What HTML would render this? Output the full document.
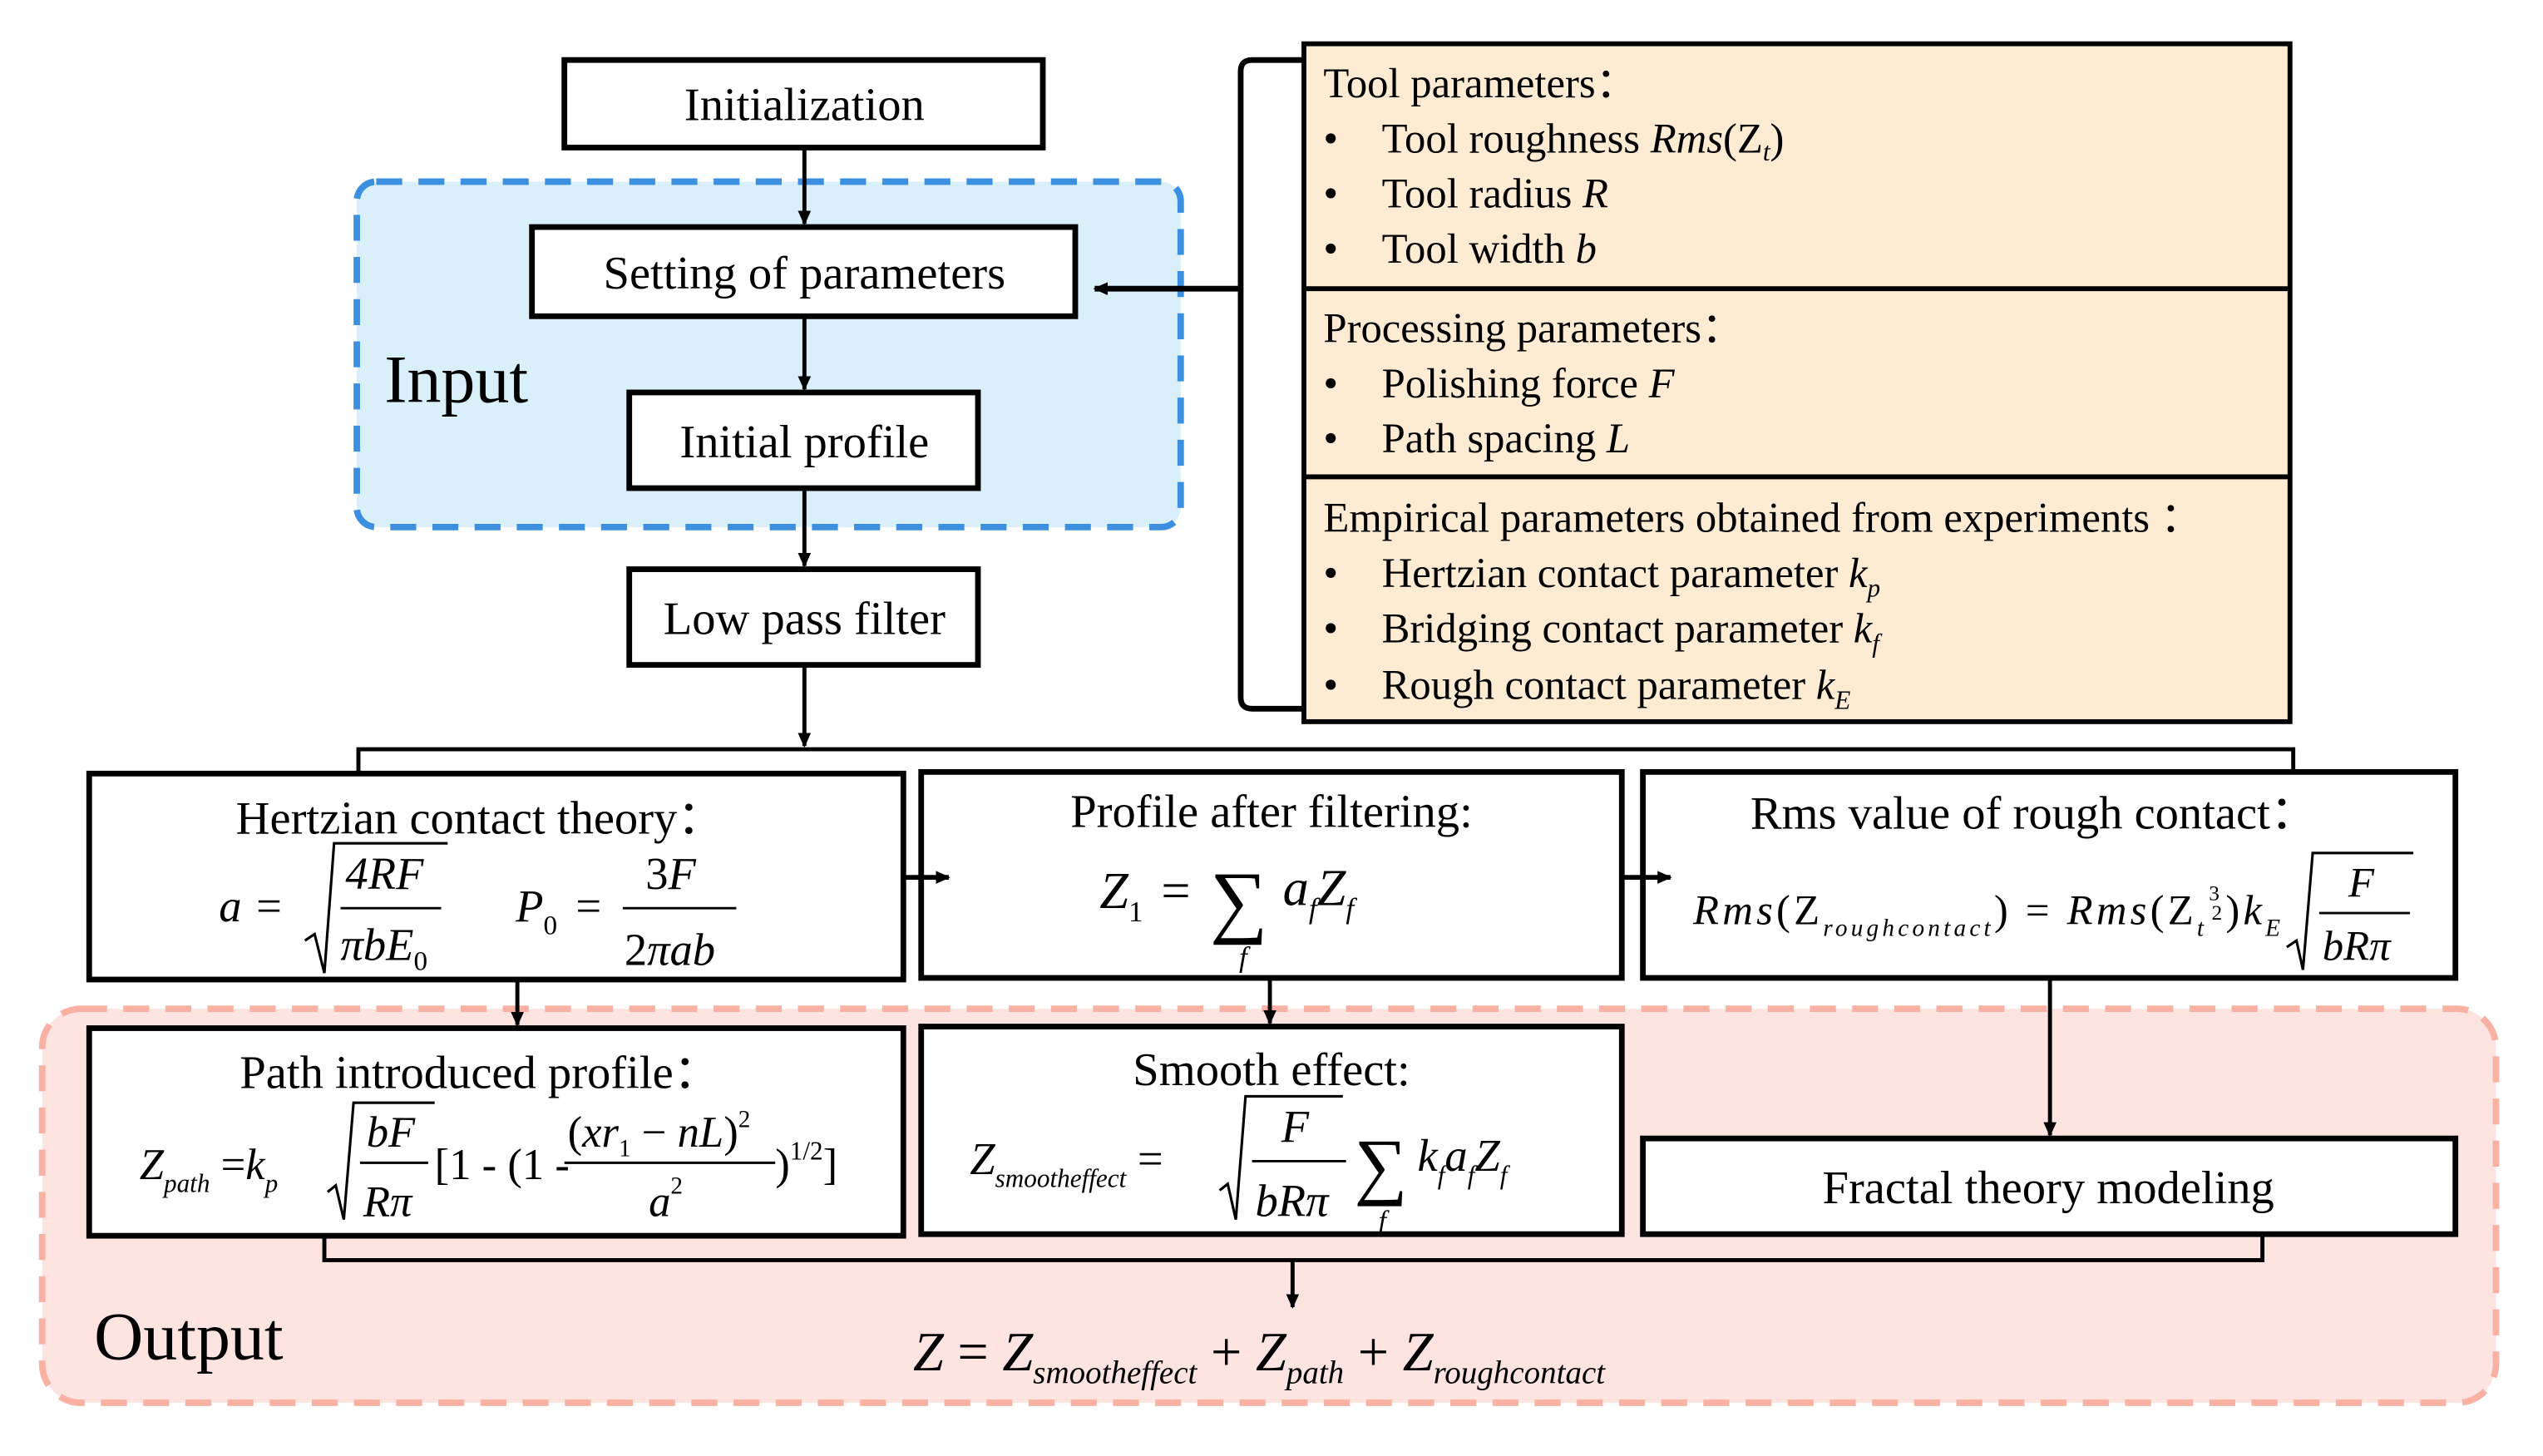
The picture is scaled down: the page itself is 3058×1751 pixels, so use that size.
<!DOCTYPE html>
<html><head><meta charset="utf-8"><style>
html,body{margin:0;padding:0;background:#fff}
svg{display:block}
text{font-family:"Liberation Serif",serif;fill:#000}
.t{font-size:29px}
.i{font-style:italic}
</style></head><body>
<svg width="3058" height="1751" viewBox="0 0 1568 897.8" preserveAspectRatio="none" xmlns="http://www.w3.org/2000/svg">
<defs><marker id="a" markerWidth="10" markerHeight="10" refX="8" refY="5" orient="auto" markerUnits="userSpaceOnUse"><path d="M0,1 L9,5 L0,9 Z" fill="#000"/></marker></defs>
<rect x="220" y="112" width="508" height="213" rx="12" fill="#d9effa" stroke="#3d8fe0" stroke-width="4" stroke-dasharray="16,10"/>
<rect x="26" y="622" width="1513" height="243" rx="24" fill="#fde4e0" stroke="#f9b1a3" stroke-width="4" stroke-dasharray="16,10"/>
<text x="237" y="248" style="font-size:42px">Input</text>
<text x="58" y="838" style="font-size:42px">Output</text>
<g fill="#fff" stroke="#000" stroke-width="3.5">
<rect x="348" y="37" width="295" height="54"/>
<rect x="328" y="140" width="335" height="55"/>
<rect x="388" y="242" width="215" height="59"/>
<rect x="388" y="351" width="215" height="59"/>
<rect x="55" y="477" width="502" height="127"/>
<rect x="568" y="476" width="432" height="127"/>
<rect x="1013" y="476" width="501" height="127"/>
<rect x="55" y="634" width="502" height="128"/>
<rect x="568" y="633" width="432" height="128"/>
<rect x="1013" y="702" width="501" height="59"/>
</g>
<text x="496" y="74" class="t" text-anchor="middle">Initialization</text>
<text x="496" y="178" class="t" text-anchor="middle">Setting of parameters</text>
<text x="496" y="282" class="t" text-anchor="middle">Initial profile</text>
<text x="496" y="391" class="t" text-anchor="middle">Low pass filter</text>
<text x="1263" y="742" class="t" text-anchor="middle">Fractal theory modeling</text>
<g stroke="#000" stroke-width="2.5" fill="none">
<line x1="496" y1="91" x2="496" y2="138" marker-end="url(#a)"/>
<line x1="496" y1="195" x2="496" y2="240" marker-end="url(#a)"/>
<line x1="496" y1="301" x2="496" y2="349" marker-end="url(#a)"/>
<line x1="496" y1="410" x2="496" y2="460" marker-end="url(#a)"/>
<path d="M221,476 V462 H1414 V476"/>
<line x1="557" y1="541" x2="585" y2="541" marker-end="url(#a)" stroke-width="3"/>
<line x1="1000" y1="541" x2="1030" y2="541" marker-end="url(#a)" stroke-width="3"/>
<line x1="319" y1="604" x2="319" y2="632" marker-end="url(#a)"/>
<line x1="783" y1="603" x2="783" y2="631" marker-end="url(#a)"/>
<line x1="1264" y1="603" x2="1264" y2="700" marker-end="url(#a)"/>
<path d="M200,762 V777 H1395 V761"/>
<line x1="797" y1="777" x2="797" y2="806" marker-end="url(#a)"/>
<path d="M803,37 H772 Q765,37 765,44 V430 Q765,437 772,437 H803" stroke-width="3.5"/>
<line x1="765" y1="178" x2="675" y2="178" marker-end="url(#a)" stroke-width="3.5"/>
</g>
<rect x="804" y="27" width="608" height="418" fill="#fdebd3" stroke="#000" stroke-width="3"/>
<line x1="804" y1="178" x2="1412" y2="178" stroke="#000" stroke-width="3"/>
<line x1="804" y1="294" x2="1412" y2="294" stroke="#000" stroke-width="3"/>
<g style="font-size:26px">
<text x="816" y="60">Tool parameters：</text>
<text x="816" y="94">•</text><text x="852" y="94">Tool roughness <tspan class="i">Rms</tspan>(Z<tspan class="i" font-size="16" dy="5">t</tspan><tspan dy="-5">)</tspan></text>
<text x="816" y="128">•</text><text x="852" y="128">Tool radius <tspan class="i">R</tspan></text>
<text x="816" y="162">•</text><text x="852" y="162">Tool width <tspan class="i">b</tspan></text>
<text x="816" y="211">Processing parameters：</text>
<text x="816" y="245">•</text><text x="852" y="245">Polishing force <tspan class="i">F</tspan></text>
<text x="816" y="279">•</text><text x="852" y="279">Path spacing <tspan class="i">L</tspan></text>
<text x="816" y="328">Empirical parameters obtained from experiments ：</text>
<text x="816" y="362">•</text><text x="852" y="362">Hertzian contact parameter <tspan class="i">k<tspan font-size="16" dy="6">p</tspan></tspan></text>
<text x="816" y="396">•</text><text x="852" y="396">Bridging contact parameter <tspan class="i">k<tspan font-size="16" dy="6">f</tspan></tspan></text>
<text x="816" y="431">•</text><text x="852" y="431">Rough contact parameter <tspan class="i">k<tspan font-size="16" dy="6">E</tspan></tspan></text>
</g>
<text x="296" y="514" class="t" text-anchor="middle">Hertzian contact theory：</text>
<g style="font-size:28px" class="i">
<text x="135" y="568">a</text><text x="158" y="568" font-style="normal">=</text>
<path d="M188,580 L194,576 L200,600 L206,520 L276,520" stroke="#000" stroke-width="1.6" fill="none"/>
<text x="213" y="548">4RF</text><line x1="210" y1="560" x2="272" y2="560" stroke="#000" stroke-width="1.5"/>
<text x="210" y="592">πbE<tspan font-size="17" font-style="normal" dy="6">0</tspan></text>
<text x="318" y="568">P<tspan font-size="17" font-style="normal" dy="8">0</tspan></text><text x="355" y="568" font-style="normal">=</text>
<text x="398" y="548" font-style="normal">3<tspan font-style="italic">F</tspan></text><line x1="384" y1="560" x2="454" y2="560" stroke="#000" stroke-width="1.5"/>
<text x="385" y="595" font-style="normal">2<tspan font-style="italic">πab</tspan></text>
</g>
<text x="784" y="510" class="t" text-anchor="middle">Profile after filtering:</text>
<g style="font-size:32px" class="i">
<text x="678" y="560">Z<tspan font-size="18" font-style="normal" dy="8">1</tspan></text><text x="716" y="560" font-style="normal">=</text>
<text x="746" y="572" font-style="normal" font-size="50">∑</text>
<text x="764" y="596" font-size="18">f</text>
<text x="791" y="558">a<tspan font-size="18" dy="8">f</tspan><tspan dy="-8">Z</tspan><tspan font-size="18" dy="8">f</tspan></text>
</g>
<text x="1254" y="511" class="t" text-anchor="middle">Rms value of rough contact：</text>
<g style="font-size:26px" class="i">
<text x="1044" y="570" textLength="362" lengthAdjust="spacing">Rms<tspan font-style="normal">(Z</tspan><tspan font-size="15" dy="7">roughcontact</tspan><tspan font-style="normal" dy="-7">) = </tspan>Rms<tspan font-style="normal">(Z</tspan><tspan font-size="15" dy="7">t</tspan><tspan font-size="13" font-style="normal" dx="1" dy="-22">3</tspan><tspan font-size="13" font-style="normal" dx="-7" dy="12">2</tspan><tspan font-style="normal" dy="3">)</tspan>k<tspan font-size="15" dy="7">E</tspan></text>
<path d="M1410,584 L1416,580 L1420,598 L1426,526 L1488,526" stroke="#000" stroke-width="1.6" fill="none"/>
<text x="1448" y="553">F</text><line x1="1430" y1="563" x2="1486" y2="563" stroke="#000" stroke-width="1.5"/>
<text x="1432" y="592">bRπ</text>
</g>
<text x="296" y="671" class="t" text-anchor="middle">Path introduced profile：</text>
<g style="font-size:27px" class="i">
<text x="86" y="727">Z<tspan font-size="16" dy="8">path</tspan><tspan font-style="normal" dy="-8"> =</tspan>k<tspan font-size="16" dy="8">p</tspan></text>
<path d="M202,735 L207,731 L212,752 L218,680 L268,680" stroke="#000" stroke-width="1.6" fill="none"/>
<text x="226" y="707">bF</text><line x1="222" y1="717" x2="264" y2="717" stroke="#000" stroke-width="1.5"/>
<text x="224" y="750">Rπ</text>
<text x="268" y="727" font-style="normal">[1 - (1 - </text>
<text x="350" y="707" font-style="normal">(<tspan font-style="italic">xr</tspan><tspan font-size="15" dy="6">1</tspan><tspan dy="-6"> − </tspan><tspan font-style="italic">nL</tspan>)<tspan font-size="15" dy="-12">2</tspan></text>
<line x1="348" y1="717" x2="478" y2="717" stroke="#000" stroke-width="1.5"/>
<text x="400" y="750">a<tspan font-size="15" font-style="normal" dy="-14">2</tspan></text>
<text x="478" y="727" font-style="normal">)<tspan font-size="16" dy="-12">1/2</tspan><tspan dy="12">]</tspan></text>
</g>
<text x="784" y="669" class="t" text-anchor="middle">Smooth effect:</text>
<g style="font-size:28px" class="i">
<text x="598" y="724">Z<tspan font-size="16" dy="8">smootheffect</tspan><tspan font-style="normal" dy="-8"> =</tspan></text>
<path d="M752,734 L757,730 L762,752 L768,676 L828,676" stroke="#000" stroke-width="1.6" fill="none"/>
<text x="790" y="704">F</text><line x1="772" y1="716" x2="830" y2="716" stroke="#000" stroke-width="1.5"/>
<text x="774" y="750">bRπ</text>
<text x="835" y="734" font-style="normal" font-size="46">∑</text>
<text x="850" y="758" font-size="17">f</text>
<text x="874" y="722">k<tspan font-size="16" dy="8">f</tspan><tspan dy="-8">a</tspan><tspan font-size="16" dy="8">f</tspan><tspan dy="-8">Z</tspan><tspan font-size="16" dy="8">f</tspan></text>
</g>
<g style="font-size:34px" class="i">
<text x="563" y="845">Z <tspan font-style="normal">=</tspan> Z<tspan font-size="20" dy="8">smootheffect</tspan><tspan font-style="normal" dy="-8"> + </tspan>Z<tspan font-size="20" dy="8">path</tspan><tspan font-style="normal" dy="-8"> + </tspan>Z<tspan font-size="20" dy="8">roughcontact</tspan></text>
</g>
</svg>
</body></html>
